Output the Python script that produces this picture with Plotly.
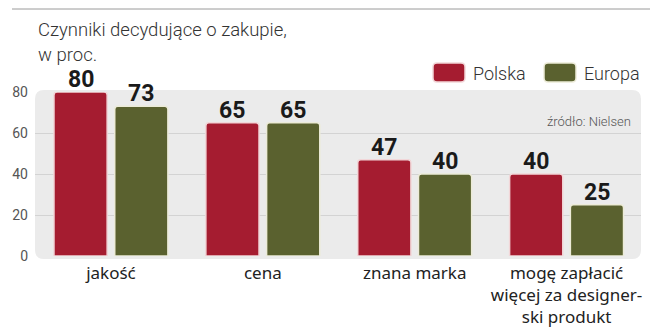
import plotly.graph_objects as go

# Data
categories = ["jakość", "cena", "znana marka", "mogę zapłacić<br>więcej za designer-<br>ski produkt"]
polska = [80, 65, 47, 40]
europa = [73, 65, 40, 25]
y_ticks = [0, 20, 40, 60, 80]

W, H = 650, 327
RED = "#a51c30"
GREEN = "#5a612f"
VALUE_FONT = dict(family="Roboto", size=23, color="#1a1a1a", weight="bold")

# Bar geometry in category units
BAR_W = 0.35
OFF_PL, OFF_EU = -0.375, 0.025

# Plot area in pixels
px_left, px_right = 35, 641
px_zero, px_top = 256, 92


def xp(px):
    return px / W


def yp(py):
    return (H - py) / H


x_pos = list(range(len(categories)))

fig = go.Figure()
fig.add_trace(go.Bar(
    x=x_pos, y=polska, name="Polska", width=BAR_W, offset=OFF_PL,
    marker=dict(color=RED, line=dict(color="#f2d6d8", width=1.5), cornerradius=3),
))
fig.add_trace(go.Bar(
    x=x_pos, y=europa, name="Europa", width=BAR_W, offset=OFF_EU,
    marker=dict(color=GREEN, line=dict(color="#ecebd8", width=1.5), cornerradius=3),
))


def rounded_rect(x0, y0, x1, y1, r):
    # rounded rectangle given in pixels, returned as a paper-coordinate path
    def P(x, y):
        return f"{xp(x):.5f},{yp(y):.5f}"
    return (f"M {P(x0 + r, y0)} L {P(x1 - r, y0)} Q {P(x1, y0)} {P(x1, y0 + r)} "
            f"L {P(x1, y1 - r)} Q {P(x1, y1)} {P(x1 - r, y1)} "
            f"L {P(x0 + r, y1)} Q {P(x0, y1)} {P(x0, y1 - r)} "
            f"L {P(x0, y0 + r)} Q {P(x0, y0)} {P(x0 + r, y0)} Z")


shapes = [
    # grey panel behind the bars
    dict(type="path", path=rounded_rect(px_left, 90, px_right, 259, 9), xref="paper", yref="paper",
         fillcolor="#ebebeb", line=dict(width=0), layer="below"),
    # top rule
    dict(type="line", xref="paper", yref="paper", x0=xp(12), x1=1, y0=yp(9), y1=yp(9),
         line=dict(color="#9a9a9a", width=1)),
]

# Legend swatches
for (sx, col, border) in [(433, RED, "#f2d6d8"), (544, GREEN, "#ecebd8")]:
    shapes.append(dict(type="path", path=rounded_rect(sx, 63, sx + 32, 82, 4), xref="paper", yref="paper",
                       fillcolor=col, line=dict(color=border, width=1.5)))

LIGHT = dict(family="Roboto", size=18, color="#333333", weight=300)
annotations = [
    dict(text="Czynniki decydujące o zakupie,", x=xp(36), y=yp(30), xref="paper", yref="paper",
         xanchor="left", yanchor="middle", showarrow=False, font=dict(LIGHT, size=18.5)),
    dict(text="w proc.", x=xp(36), y=yp(55), xref="paper", yref="paper",
         xanchor="left", yanchor="middle", showarrow=False, font=dict(LIGHT, size=18.5)),
    dict(text="Polska", x=xp(471), y=yp(73), xref="paper", yref="paper", xanchor="left", yanchor="middle",
         showarrow=False, font=LIGHT),
    dict(text="Europa", x=xp(582), y=yp(73), xref="paper", yref="paper", xanchor="left", yanchor="middle",
         showarrow=False, font=LIGHT),
    dict(text="źródło: Nielsen", x=xp(633), y=yp(122), xref="paper", yref="paper", xanchor="right",
         yanchor="middle", showarrow=False, font=dict(family="Roboto", size=13, color="#555555", weight=300)),
]

# Value labels above each bar, placed from the same data
for values, off in [(polska, OFF_PL), (europa, OFF_EU)]:
    for xi, v in zip(x_pos, values):
        annotations.append(dict(
            text=str(v), x=xi + off + BAR_W / 2, y=v, xref="x", yref="y",
            xanchor="center", yanchor="bottom", yshift=-3, showarrow=False, font=VALUE_FONT,
        ))

fig.update_layout(
    width=W, height=H,
    margin=dict(l=0, r=0, t=0, b=0, autoexpand=False),
    paper_bgcolor="white", plot_bgcolor="rgba(0,0,0,0)",
    barmode="overlay", showlegend=False,
    shapes=shapes, annotations=annotations,
    xaxis=dict(domain=[xp(px_left), xp(px_right)], range=[-0.5, 3.49], automargin=False,
               tickvals=x_pos, ticktext=categories, showgrid=False, zeroline=False,
               showline=False, ticks="", ticklabelstandoff=5,
               tickfont=dict(family="Noto Sans", size=17, color="#222222")),
    yaxis=dict(domain=[yp(px_zero), yp(px_top)], range=[0, 80], tickvals=y_ticks, automargin=False,
               showgrid=True, gridcolor="#d3d3d3", gridwidth=1, zeroline=False,
               ticks="", ticklabelstandoff=6,
               tickfont=dict(family="Roboto", size=14, color="#555555")),
)

fig.write_html("out.html")
